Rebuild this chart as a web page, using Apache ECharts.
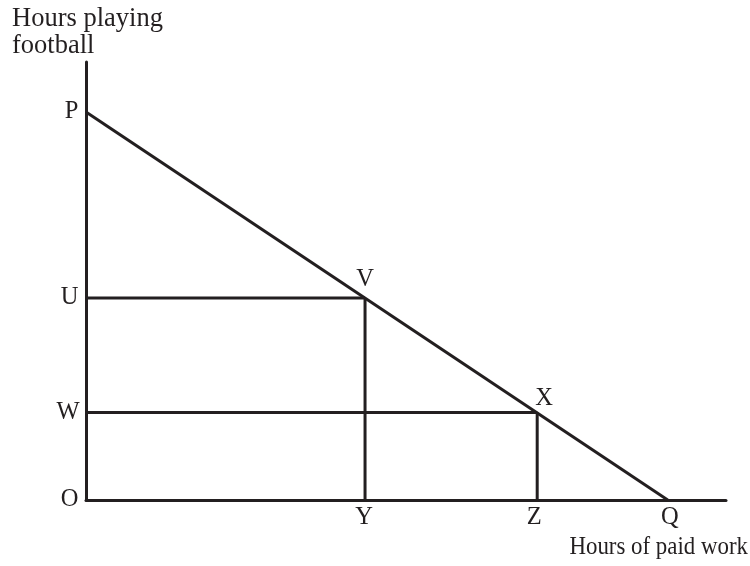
<!DOCTYPE html>
<html><head><meta charset="utf-8">
<script src="https://cdn.jsdelivr.net/npm/echarts@6/dist/echarts.min.js"></script>
<style>html,body{margin:0;padding:0;background:#fff}#c{width:750px;height:566px}</style>
</head><body><div id="c"></div>
<script>
// Budget line endpoints (P on y-axis, Q on x-axis)
var budgetLine = [[0, 88.6], [90.9, 0]];
// Chosen points on the line
var pointV = [43.6, 46.1];
var pointX = [70.5, 20.0];
// Labels
var pointLabels = ['P', 'Q', 'V', 'X', 'U', 'W', 'Y', 'Z', 'O'];
var yAxisTitle = ['Hours playing', 'football'];
var xAxisTitle = 'Hours of paid work';

var ink = '#231f20';
var font = 'Liberation Serif';
var lineStyle = {color: ink, width: 3};

function seg(a, b) { return {type: 'line', data: [a, b], symbol: 'none', lineStyle: lineStyle, silent: true, z: 3}; }

var labelPts = [
  {value: budgetLine[0], pos: 'left', d: 7, off: [0, 0]},
  {value: budgetLine[1], pos: 'bottom', d: 5, off: [2, 0]},
  {value: pointV, pos: 'top', d: 6, off: [0, 0]},
  {value: pointX, pos: 'top', d: 1, off: [7, 0]},
  {value: [0, pointV[1]], pos: 'left', d: 7, off: [0, -1]},
  {value: [0, pointX[1]], pos: 'left', d: 6, off: [0, 0]},
  {value: [pointV[0], 0], pos: 'bottom', d: 5, off: [-1, 0]},
  {value: [pointX[0], 0], pos: 'bottom', d: 5, off: [-3, 0]},
  {value: [0, 0], pos: 'left', d: 7, off: [0, 0]}
].map(function (d, i) {
  return {value: d.value, label: {show: true, position: d.pos, distance: d.d, formatter: pointLabels[i], offset: d.off}};
});

var chart = echarts.init(document.getElementById('c'));
chart.setOption({
  animation: false,
  grid: {left: 86, top: 62, right: 24, bottom: 66},
  xAxis: {type: 'value', min: 0, max: 100, axisLine: {lineStyle: lineStyle}, axisTick: {show: false}, axisLabel: {show: false}, splitLine: {show: false}},
  yAxis: {type: 'value', min: 0, max: 100, axisLine: {show: true, lineStyle: lineStyle}, axisTick: {show: false}, axisLabel: {show: false}, splitLine: {show: false}},
  graphic: [
    {type: 'text', x: 12, y: 19.5, style: {text: yAxisTitle[0], font: '26.5px "' + font + '"', fill: ink, verticalAlign: 'middle'}},
    {type: 'text', x: 12, y: 46, style: {text: yAxisTitle[1], font: '26.5px "' + font + '"', fill: ink, verticalAlign: 'middle'}},
    {type: 'text', x: 748, y: 547, scaleX: 0.88, style: {text: xAxisTitle, font: '26px "' + font + '"', fill: ink, align: 'right', verticalAlign: 'middle'}}
  ],
  series: [
    seg(budgetLine[0], budgetLine[1]),
    seg([0, pointV[1]], pointV),
    seg([pointV[0], 0], pointV),
    seg([0, pointX[1]], pointX),
    seg([pointX[0], 0], pointX),
    {type: 'scatter', symbolSize: 1, itemStyle: {color: 'rgba(0,0,0,0)', opacity: 1}, silent: true, z: 5,
     label: {color: ink, fontFamily: font, fontSize: 24.5},
     data: labelPts}
  ]
});
</script></body></html>
